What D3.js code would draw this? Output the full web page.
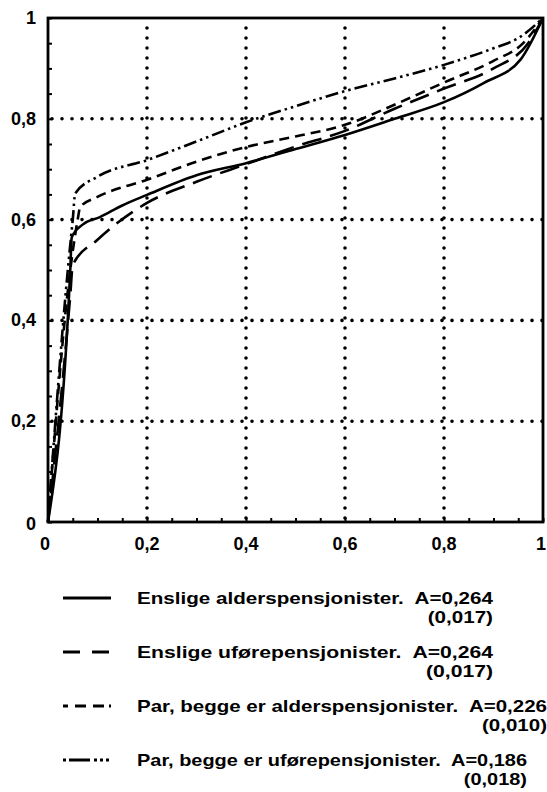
<!DOCTYPE html>
<html>
<head>
<meta charset="utf-8">
<script src="https://cdn.jsdelivr.net/npm/d3@7"></script>
<style>
  body { margin: 0; background: #fff; }
  svg { display: block; }
  text { font-family: "Liberation Sans", Arial, sans-serif; font-weight: bold; fill: #000; }
</style>
</head>
<body>
<div id="chart"></div>
<script>
// cumulative share of population (x) vs cumulative share of income (y)
const enslAlder = [[0,0],[0.045,0.5],[0.048,0.565],[0.07,0.59],[0.105,0.605],[0.15,0.628],[0.2,0.649],[0.3,0.688],[0.4,0.712],[0.5,0.74],[0.6,0.768],[0.7,0.8],[0.8,0.833],[0.88,0.871],[0.955,0.918],[1,1]];
const enslUfore = [[0,0],[0.045,0.45],[0.05,0.51],[0.1,0.56],[0.2,0.633],[0.3,0.675],[0.4,0.71],[0.5,0.745],[0.6,0.776],[0.7,0.82],[0.8,0.86],[0.9,0.9],[0.97,0.95],[1,1]];
const parAlder  = [[0,0],[0.045,0.5],[0.06,0.6],[0.065,0.625],[0.1,0.645],[0.2,0.679],[0.3,0.715],[0.4,0.744],[0.5,0.765],[0.6,0.788],[0.7,0.828],[0.8,0.872],[0.9,0.915],[0.96,0.95],[1,1]];
const parUfore  = [[0,0],[0.04,0.5],[0.05,0.6],[0.055,0.652],[0.1,0.685],[0.2,0.718],[0.3,0.755],[0.4,0.793],[0.5,0.825],[0.6,0.855],[0.7,0.88],[0.8,0.907],[0.9,0.94],[0.95,0.96],[1,1]];

const seriesNames = [
  "Enslige alderspensjonister.  A=0,264",
  "Enslige uførepensjonister.  A=0,264",
  "Par, begge er alderspensjonister.  A=0,226",
  "Par, begge er uførepensjonister.  A=0,186"
];
const seriesSE = ["(0,017)", "(0,017)", "(0,010)", "(0,018)"];
const seriesData = [enslAlder, enslUfore, parAlder, parUfore];
const dashes = [null, "20 9", "10 6", "13 4 2.5 4 2.5 4"];

const xTicks = [0, 0.2, 0.4, 0.6, 0.8, 1];
const yTicks = [0, 0.2, 0.4, 0.6, 0.8, 1];
const tickLabel = d => d === 0 ? "0" : d === 1 ? "1" : String(d).replace(".", ",");

const width = 547, height = 792;
const plot = { left: 48, right: 543, top: 18, bottom: 522 };

const svg = d3.select("#chart").append("svg")
    .attr("width", width)
    .attr("height", height);

const x = d3.scaleLinear().domain([0, 1]).range([plot.left, plot.right]);
const y = d3.scaleLinear().domain([0, 1]).range([plot.bottom, plot.top]);

// dotted grid
const grid = svg.append("g")
    .attr("stroke", "#000")
    .attr("stroke-width", 3.6)
    .attr("stroke-linecap", "round")
    .attr("stroke-dasharray", "0 10");

grid.selectAll("line.gx")
    .data(xTicks.filter(d => d > 0 && d < 1))
    .enter().append("line")
    .attr("x1", d => x(d)).attr("x2", d => x(d))
    .attr("y1", y(0) - 4).attr("y2", y(1));

grid.selectAll("line.gy")
    .data(yTicks.filter(d => d > 0 && d < 1))
    .enter().append("line")
    .attr("y1", d => y(d)).attr("y2", d => y(d))
    .attr("x1", x(0) + 4).attr("x2", x(1));

// axes with inward minor ticks
const minor = d3.range(0, 1.0001, 0.05);

const xAxis = d3.axisBottom(x).tickValues(minor).tickSizeInner(-4).tickSizeOuter(0).tickFormat("");
const yAxis = d3.axisLeft(y).tickValues(minor).tickSizeInner(-4).tickSizeOuter(0).tickFormat("");

svg.append("g")
    .attr("transform", `translate(0,${plot.bottom})`)
    .call(xAxis)
    .call(g => g.selectAll("line").attr("stroke-width", 2))
    .call(g => g.select(".domain").remove());

svg.append("g")
    .attr("transform", `translate(${plot.left},0)`)
    .call(yAxis)
    .call(g => g.selectAll("line").attr("stroke-width", 2))
    .call(g => g.select(".domain").remove());

// frame
svg.append("rect")
    .attr("x", plot.left).attr("y", plot.top)
    .attr("width", plot.right - plot.left)
    .attr("height", plot.bottom - plot.top)
    .attr("fill", "none")
    .attr("stroke", "#000")
    .attr("stroke-width", 2.8);

// tick labels
svg.append("g").selectAll("text")
    .data(xTicks)
    .enter().append("text")
    .attr("x", d => x(d) - (d === 0 ? 3 : d === 1 ? 2 : 0))
    .attr("y", 550)
    .attr("text-anchor", "middle")
    .attr("font-size", 18)
    .text(tickLabel);

svg.append("g").selectAll("text")
    .data(yTicks)
    .enter().append("text")
    .attr("x", 36)
    .attr("y", d => y(d) + 6 + (d === 0 ? 2 : 0))
    .attr("text-anchor", "end")
    .attr("font-size", 18)
    .text(tickLabel);

// curves
const line = d3.line()
    .x(d => x(d[0]))
    .y(d => y(d[1]))
    .curve(d3.curveMonotoneX);

svg.append("g").selectAll("path")
    .data(seriesData)
    .enter().append("path")
    .attr("d", line)
    .attr("fill", "none")
    .attr("stroke", "#000")
    .attr("stroke-width", 2.6)
    .attr("stroke-dasharray", (d, i) => dashes[i]);

// legend
const legRowY = [598, 652, 706, 760];
const legTextEnd = [493, 493, 547, 527];
const legend = svg.append("g");

legRowY.forEach((ly, i) => {
  legend.append("line")
      .attr("x1", 63).attr("x2", 111)
      .attr("y1", ly).attr("y2", ly)
      .attr("stroke", "#000")
      .attr("stroke-width", 3)
      .attr("stroke-dasharray", i === 0 ? null : i === 1 ? "17 12" : i === 2 ? "5 7 11 7 11" : "3 3 21 4 3 3 3");
  const main = legend.append("text")
      .attr("x", 137)
      .attr("y", ly + 6)
      .attr("font-size", 17)
      .attr("xml:space", "preserve")
      .text(seriesNames[i]);
  const k = (legTextEnd[i] - 137) / main.node().getComputedTextLength();
  main.attr("textLength", legTextEnd[i] - 137).attr("lengthAdjust", "spacingAndGlyphs");
  const se = legend.append("text")
      .attr("x", legTextEnd[i])
      .attr("y", ly + 25)
      .attr("text-anchor", "end")
      .attr("font-size", 17)
      .text(seriesSE[i]);
  se.attr("textLength", se.node().getComputedTextLength() * k)
    .attr("lengthAdjust", "spacingAndGlyphs");
});
</script>
</body>
</html>
